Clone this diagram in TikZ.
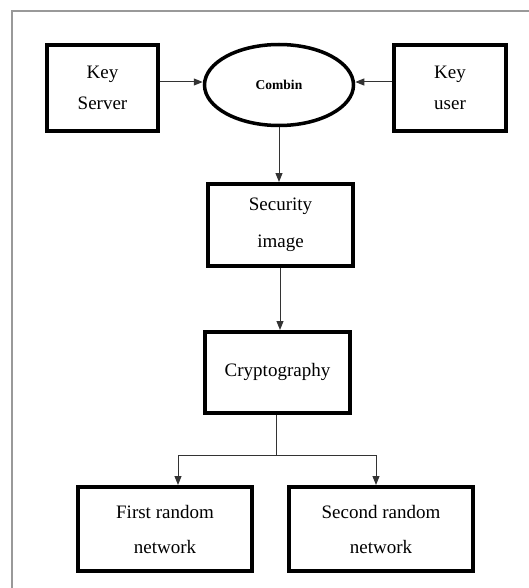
\documentclass[tikz,border=0pt]{standalone}
\usepackage{fontspec}
\setmainfont{Liberation Serif}
\usetikzlibrary{shapes.geometric,arrows.meta,calc}
\begin{document}
\begin{tikzpicture}[x=1pt,y=-1pt,
  box/.style={draw=black,line width=4pt,rectangle,align=center,inner sep=0pt,
    font=\fontsize{19}{33}\selectfont},
  oval/.style={draw=black,line width=3.5pt,ellipse,inner sep=0pt,
    font=\fontsize{13.5}{15}\selectfont\bfseries},
  link/.style={draw=black!80,line width=1pt},
  arr/.style={link,-{Triangle[length=9pt,width=7pt]}}]
\useasboundingbox (0,0) rectangle (529,588);
% outer frame (only top and left edges show)
\draw[gray!80,line width=1.5pt] (12,588) -- (12,11) -- (529,11);

\node[box,minimum width=111pt,minimum height=86pt,font=\fontsize{19}{31}\selectfont] (ks) at (102.5,88) {Key\\Server};
\node[oval,minimum width=149pt,minimum height=81pt] (comb) at (279,85) {Combin};
\node[box,minimum width=112pt,minimum height=86pt,font=\fontsize{19}{31}\selectfont] (ku) at (450,88) {Key\\user};
\node[box,minimum width=145pt,minimum height=82pt,font=\fontsize{19}{37}\selectfont] (sec) at (280.5,225) {Security\\image};
\node[box,minimum width=145pt,minimum height=81pt] (cry) at (277.5,372.5) {\raisebox{5pt}{Cryptography}};
\node[box,minimum width=174pt,minimum height=84pt,font=\fontsize{19}{35}\selectfont] (fr) at (165,529) {First random\\network};
\node[box,minimum width=184pt,minimum height=84pt,font=\fontsize{19}{35}\selectfont] (sr) at (381,529) {Second random\\network};

\draw[arr] (ks.east |- 0,82) -- (comb.west |- 0,82);
\draw[arr] (ku.west |- 0,82) -- (comb.east |- 0,82);
\draw[arr] (comb.south) -- (comb.south |- sec.north);
\draw[arr] (sec.south -| 280,0) -- (280,0 |- cry.north);

\coordinate (split) at (276,455);
\coordinate (fa) at ($(fr.north)+(13,0)$);
\coordinate (sa) at ($(sr.north)+(-5,0)$);
\draw[link] (cry.south -| split) -- (split);
\draw[arr] (split) -| (fa);
\draw[arr] (split) -| (sa);
\end{tikzpicture}
\end{document}
